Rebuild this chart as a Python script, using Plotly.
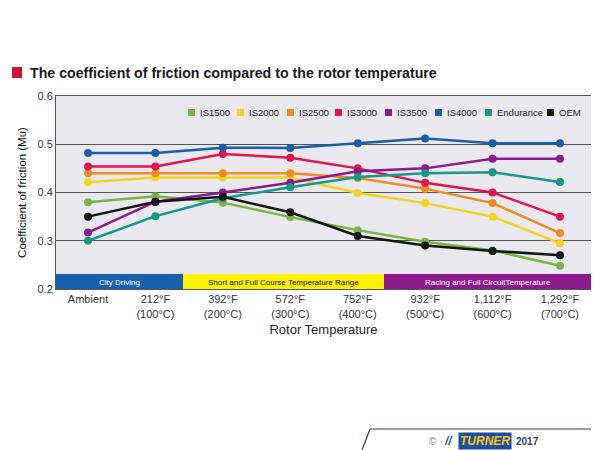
import plotly.graph_objects as go

# rotor temperature categories
temps = ["Ambient", "212°F<br>(100°C)", "392°F<br>(200°C)", "572°F<br>(300°C)",
         "752°F<br>(400°C)", "932°F<br>(500°C)", "1,112°F<br>(600°C)", "1,292°F<br>(700°C)"]

# coefficient of friction per pad compound
is1500 = [0.380, 0.392, 0.379, 0.349, 0.322, 0.298, 0.280, 0.248]
is2000 = [0.421, 0.431, 0.431, 0.431, 0.399, 0.378, 0.350, 0.295]
is2500 = [0.440, 0.440, 0.440, 0.440, 0.430, 0.408, 0.378, 0.316]
is3000 = [0.454, 0.454, 0.480, 0.472, 0.450, 0.420, 0.400, 0.350]
is3500 = [0.317, 0.381, 0.400, 0.420, 0.444, 0.450, 0.470, 0.470]
is4000 = [0.482, 0.482, 0.493, 0.492, 0.502, 0.512, 0.502, 0.502]
endurance = [0.300, 0.351, 0.388, 0.411, 0.432, 0.440, 0.442, 0.422]
oem = [0.350, 0.381, 0.391, 0.359, 0.310, 0.290, 0.279, 0.270]

names = ["IS1500", "IS2000", "IS2500", "IS3000", "IS3500", "IS4000", "Endurance", "OEM"]
values = [is1500, is2000, is2500, is3000, is3500, is4000, endurance, oem]

# temperature zones
zones = ["City Driving", "Short and Full Course Temperature Range",
         "Racing and Full CircuitTemperature"]

colors = ["#78b543", "#f2d41f", "#ef8b1f", "#e0154e", "#8b1b8d", "#1a5ea6", "#17998a", "#151515"]
zone_fill = ["#1660ad", "#fff200", "#8c1a8c"]
zone_font = ["white", "#111", "white"]

# page has an 8px body margin, so the figure is drawn 8px in from the window edge
OFF = 8
W, H = 599 - OFF, 450 - OFF
L, R, T, B = 56 - OFF, 8, 96 - OFF, 161
PW, PH = W - L - R, H - T - B


def px(x):
    # window pixel -> paper x
    return (x - OFF - L) / PW


def py(y):
    # window pixel -> paper y
    return (H - B - (y - OFF)) / PH


def note(x, y, text, size, color, **kw):
    return dict(xref="paper", yref="paper", x=px(x), y=py(y), text=text, showarrow=False,
                xanchor=kw.pop("xanchor", "center"), yanchor="middle",
                font=dict(size=size, color=color, family="Liberation Sans"), **kw)


fig = go.Figure()
for name, vals, col in zip(names, values, colors):
    fig.add_trace(go.Scatter(x=temps, y=vals, name=name, mode="lines+markers",
                             line=dict(color=col, width=2.5),
                             marker=dict(color=col, size=8),
                             showlegend=False))

shapes = []
annotations = []

# zone bands along the bottom of the plot
zone_edges = [56, 183, 384, 591]
for i, z in enumerate(zones):
    shapes.append(dict(type="rect", xref="paper", yref="y",
                       x0=px(zone_edges[i]), x1=px(zone_edges[i + 1]), y0=0.2, y1=0.231,
                       fillcolor=zone_fill[i], line_width=0, layer="above"))
    annotations.append(note((zone_edges[i] + zone_edges[i + 1]) / 2, 282, z, 8, zone_font[i]))

# legend drawn inside the plot
legend_px = [188, 237, 287, 335, 385, 435, 485, 547]
ly = 112.5
for name, col, lx in zip(names, colors, legend_px):
    shapes.append(dict(type="rect", xref="paper", yref="paper",
                       x0=px(lx), x1=px(lx + 7), y0=py(ly + 3.5), y1=py(ly - 3.5),
                       fillcolor=col, line_width=0))
    annotations.append(note(lx + 10, ly, name, 9.5, "#222", xanchor="left"))

# title with red marker
shapes.append(dict(type="rect", xref="paper", yref="paper",
                   x0=px(12), x1=px(22), y0=py(78), y1=py(67),
                   fillcolor="#d0103a", line_width=0))
annotations.append(note(28, 73, "<b>The coefficient of friction compared to the rotor temperature</b>",
                        14.2, "#1a1a1a", xanchor="left"))

# footer
shapes.append(dict(type="line", xref="paper", yref="paper",
                   x0=px(370), x1=px(599), y0=py(429), y1=py(429),
                   line=dict(color="#2b3a6b", width=1.2)))
shapes.append(dict(type="line", xref="paper", yref="paper",
                   x0=px(370), x1=px(362), y0=py(429), y1=py(450),
                   line=dict(color="#2b3a6b", width=1.2)))
annotations.append(note(433, 441, "©", 10, "#7a8399"))
annotations.append(note(448, 441, "<b><i>//</i></b>", 12, "#1d4f9e"))
annotations.append(note(485, 441, "<b><i>TURNER</i></b>", 12, "#f7c51a",
                        bgcolor="#1d4f9e", borderpad=1))
annotations.append(note(527, 441, "<b>2017</b>", 10, "#2b3a6b"))

fig.update_layout(
    width=W, height=H,
    margin=dict(l=L, r=R, t=T, b=B),
    paper_bgcolor="white", plot_bgcolor="#e8e8ee",
    font=dict(family="Liberation Sans", color="#333"),
    shapes=shapes, annotations=annotations,
    xaxis=dict(range=[-0.475, 7.46], showgrid=False, showline=True, mirror=True,
               linecolor="#555", linewidth=1, ticks="", tickfont=dict(size=11, color="#333"),
               automargin=False,
               title=dict(text="Rotor Temperature", font=dict(size=13, color="#222"), standoff=6)),
    yaxis=dict(range=[0.2, 0.6], dtick=0.1, tickformat=".1f", showgrid=True,
               gridcolor="#555", gridwidth=1, showline=True, mirror=True, linecolor="#555",
               linewidth=1, ticks="", zeroline=False, tickfont=dict(size=11, color="#333"),
               automargin=False,
               title=dict(text="Coefficient of friction (Mu)", font=dict(size=11.5, color="#111"),
                          standoff=8)),
)

fig.write_html("out.html")
